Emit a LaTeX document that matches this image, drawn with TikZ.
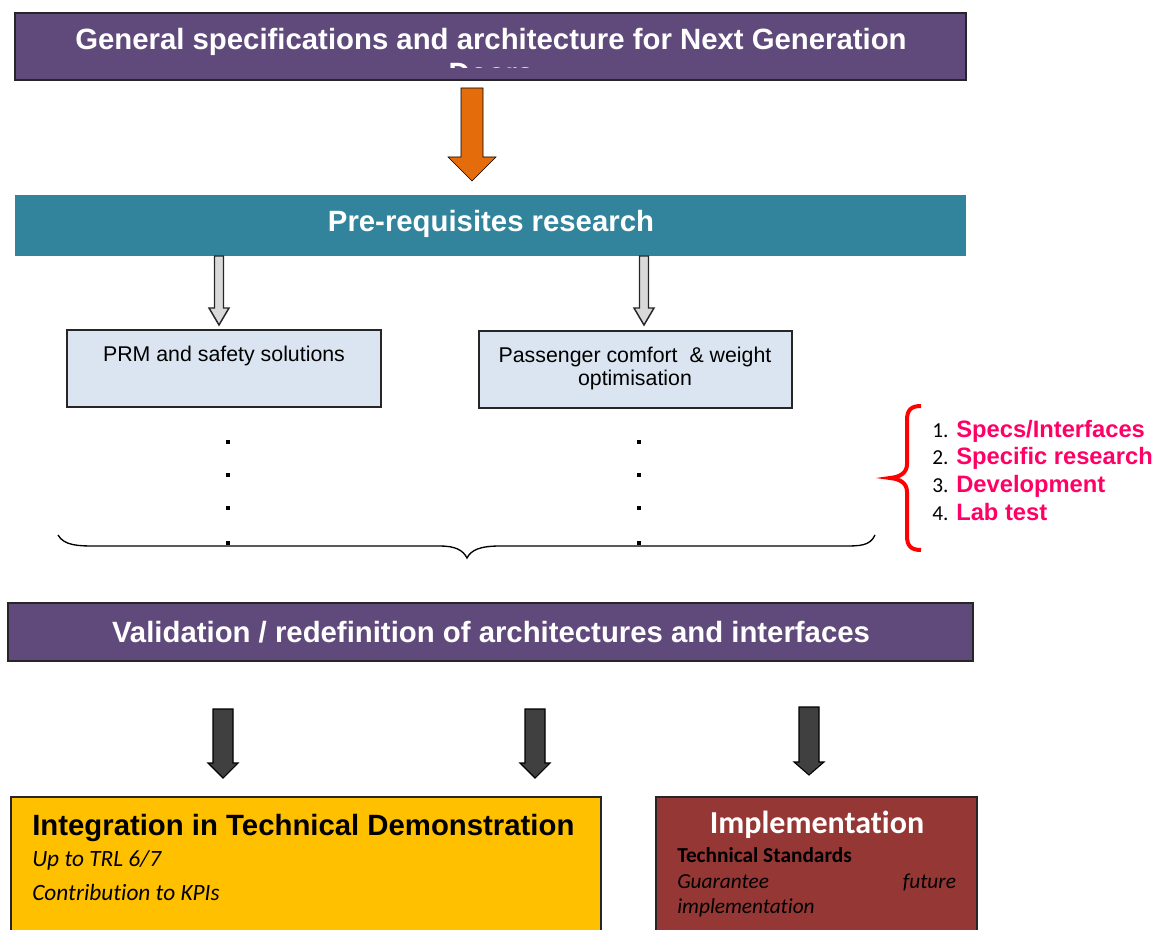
\documentclass[tikz,border=0pt]{standalone}
\usepackage{fontspec}
\setmainfont{Liberation Sans}
\newfontfamily\calfont[Ligatures=NoCommon]{Carlito}
\usepackage{xcolor}
\definecolor{specpurple}{HTML}{604A7B}
\definecolor{preteal}{HTML}{31849B}
\definecolor{arrorange}{HTML}{E46C0A}
\definecolor{boxblue}{HTML}{DBE5F1}
\definecolor{arrgray}{HTML}{D9D9D9}
\definecolor{arrdark}{HTML}{404040}
\definecolor{demoyellow}{HTML}{FFC000}
\definecolor{implred}{HTML}{953735}
\definecolor{steppink}{HTML}{FF0066}
\usetikzlibrary{fit}
\newcommand{\fsz}[1]{\fontsize{#1}{1.2\dimexpr#1pt\relax}\selectfont}
% style, x, top, neck, tip, half shaft, half head
\newcommand{\blockarrow}[7]{%
  \draw[#1] ({#2-#6},#3) -- ({#2+#6},#3) -- ({#2+#6},#4) -- ({#2+#7},#4)
    -- (#2,#5) -- ({#2-#7},#4) -- ({#2-#6},#4) -- cycle;}
\tikzset{
  band/.style={inner sep=0pt, draw=black!85, line width=1.3pt},
  subbox/.style={inner sep=0pt, draw=black!85, fill=boxblue, line width=1.1pt},
  head/.style={text=white, font=\bfseries\fsz{22}, inner sep=0pt},
  steptext/.style={anchor=base west, inner sep=0pt, text=steppink, font=\bfseries\fsz{17.8}},
  stepnum/.style={anchor=base west, inner sep=0pt, font=\calfont\fsz{16}},
}

\begin{document}
\begin{tikzpicture}[x=0.75pt,y=-0.75pt]
  \clip (0,0) rectangle (1155,930);

  % top band
  \node[band, fill=specpurple, fit={(15,13) (966,80)}] (spec) {};
  \begin{scope}
    \clip (15,13) rectangle (966,68);
    \node[head, align=center, anchor=base, font=\bfseries\fontsize{22}{25.5}\selectfont]
      (spectxt) at (491,84) {General specifications and architecture for Next Generation\\Doors};
  \end{scope}

  \blockarrow{fill=arrorange}{472}{88}{157}{181}{11}{24}

  % pre-requisites
  \node[inner sep=0pt, fill=preteal, fit={(15,195) (966,256)}] (pre) {};
  \node[head, anchor=base] (pretxt) at (491,232) {Pre-requisites research};

  \blockarrow{fill=arrgray, draw=black!85, line width=1.1pt}{219}{256}{308}{325}{4.5}{10}
  \blockarrow{fill=arrgray, draw=black!85, line width=1.1pt}{644}{256}{308}{325}{4.5}{10}

  \node[subbox, fit={(67,330) (381,407)}] (prm) {};
  \node[anchor=base, inner sep=0pt, font=\fsz{16}] (prmtxt) at (224,361) {PRM and safety solutions};
  \node[subbox, fit={(479,331) (792,408)}] (comf) {};
  \node[anchor=base, inner sep=0pt, font=\fsz{16}] (comftxt) at (635,362) {Passenger comfort\ \ \& weight};
  \node[anchor=base, inner sep=0pt, font=\fsz{16}] (comftxtb) at (635,385) {optimisation};

  % dots
  \foreach \dx in {228,639}
    \foreach \dy in {442,475,508,543}
      \fill (\dx-2,\dy-2) rectangle (\dx+2,\dy+2);

  % brace under the columns
  \draw[line width=1pt] (58,535) .. controls (64,546) and (80,546) .. (95,546) -- (440,546)
    .. controls (455,546) and (463,550) .. (467,558)
    .. controls (471,550) and (480,546) .. (500,546) -- (843,546)
    .. controls (860,546) and (870,546) .. (875,535);

  % steps
  \draw[red, line width=3pt] (921,406) .. controls (911,406) and (907,410) .. (907,420) -- (907,464)
    .. controls (907,473) and (900,477) .. (890,478)
    .. controls (900,479) and (907,483) .. (907,492) -- (907,536)
    .. controls (907,546) and (911,550) .. (921,550);
  \foreach \n/\t [count=\i] in {1/Specs\slash Interfaces,2/Specific research,3/Development,4/Lab test} {
    \node[stepnum] (num\i) at (932,{437+27.7*(\i-1)}) {\n.};
    \node[steptext] (step\i) at (956,{437+27.7*(\i-1)}) {\t};
  }

  % validation
  \node[band, fill=specpurple, fit={(8,603) (973,661)}] (valid) {};
  \node[head, anchor=base] (validtxt) at (491,642) {Validation / redefinition of architectures and interfaces};

  \blockarrow{fill=arrdark, draw=black, line width=0.8pt}{223}{709}{763}{778}{10}{15}
  \blockarrow{fill=arrdark, draw=black, line width=0.8pt}{535}{709}{763}{778}{10}{15}
  \blockarrow{fill=arrdark, draw=black, line width=0.8pt}{809}{707}{762}{775}{10}{15}

  % outcomes
  \node[band, line width=1.1pt, fill=demoyellow, fit={(11,797) (601,945)}] (demo) {};
  \node[anchor=base west, inner sep=0pt, font=\bfseries\fsz{22}] (demotxt) at (32,835) {Integration in Technical Demonstration};
  \node[anchor=base west, inner sep=0pt, font=\calfont\itshape\fsz{17.5}] (trl) at (32,866) {Up to TRL 6/7};
  \node[anchor=base west, inner sep=0pt, font=\calfont\itshape\fsz{17.5}] (kpi) at (32,900) {Contribution to KPIs};

  \node[band, line width=1.1pt, fill=implred, fit={(656,797) (977,945)}] (impl) {};
  \node[anchor=base, inner sep=0pt, text=white, font=\calfont\bfseries\fsz{24}] (impltxt) at (817,833) {Implementation};
  \node[anchor=base west, inner sep=0pt, font=\calfont\bfseries\fsz{16}] (std) at (677,862) {Technical Standards};
  \node[anchor=base west, inner sep=0pt, font=\calfont\itshape\fsz{16}] (guar) at (677,888) {\makebox[209pt][s]{Guarantee future}};
  \node[anchor=base west, inner sep=0pt, font=\calfont\itshape\fsz{16}] (guarb) at (677,913) {implementation};
\end{tikzpicture}
\end{document}
